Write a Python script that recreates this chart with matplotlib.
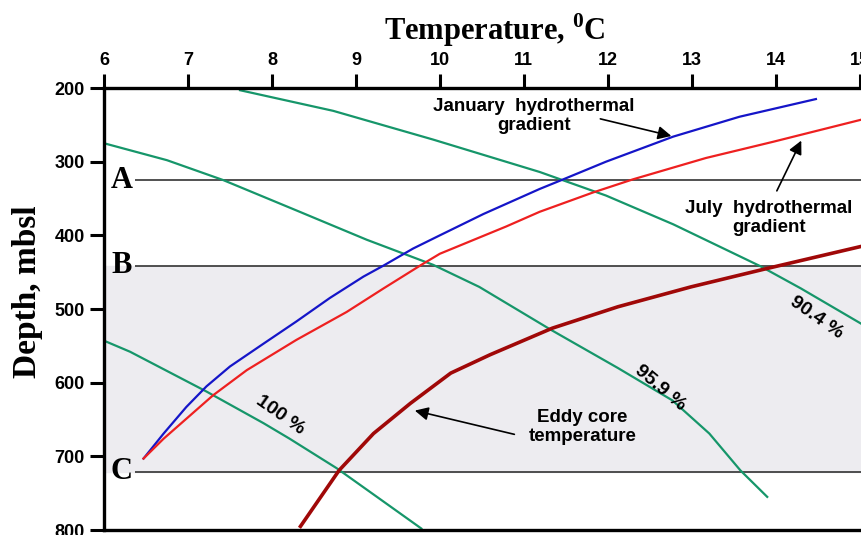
import matplotlib
matplotlib.use("Agg")
import matplotlib.pyplot as plt

# --- data (temperature degC, depth m) ---
jan_t = [6.47, 6.71, 6.98, 7.22, 7.50, 7.90, 8.29, 8.69, 9.09, 9.33, 9.68, 10.0,
         10.52, 11.19, 11.47, 11.98, 12.78, 13.57, 14.48]
jan_d = [703, 669, 633, 605, 578, 547, 517, 485, 456, 441, 418, 400,
         371, 337, 324, 300, 266, 239, 215]

jul_t = [6.47, 6.71, 7.30, 7.70, 8.29, 8.89, 9.33, 9.78, 10.0, 10.79, 11.19, 11.82,
         12.30, 13.17, 13.97, 15.02]
jul_d = [703, 676, 617, 583, 542, 504, 472, 440, 425, 388, 368, 342,
         324, 295, 273, 243]

eddy_t = [8.34, 8.80, 9.21, 9.65, 10.13, 10.60, 11.34, 12.12, 12.99, 13.86, 15.02]
eddy_d = [795, 719, 669, 628, 587, 562, 526, 497, 470, 446, 415]

g904_t = [7.62, 8.73, 9.92, 11.19, 11.98, 12.78, 13.51, 13.82, 14.30, 15.02]
g904_d = [203, 231, 270, 314, 346, 385, 425, 442, 472, 520]

g959_t = [6.0, 6.75, 7.42, 8.33, 9.13, 9.92, 10.47, 11.32, 12.12, 12.77, 13.21,
          13.58, 13.90]
g959_d = [275, 298, 325, 368, 406, 440, 470, 528, 580, 624, 669, 719, 755]

g100_t = [6.0, 6.31, 7.22, 7.90, 8.21, 8.77, 9.30, 9.78]
g100_d = [543, 558, 612, 655, 676, 716, 759, 798]

levels = [325, 441, 721]
level_names = ["A", "B", "C"]
x_ticks = list(range(6, 16))
y_ticks = [200, 300, 400, 500, 600, 700, 800]

sans = ["Liberation Sans", "DejaVu Sans"]
serif = ["Liberation Serif", "DejaVu Serif"]
plt.rcParams["mathtext.fontset"] = "custom"
plt.rcParams["mathtext.rm"] = "Liberation Serif:bold"
plt.rcParams["mathtext.bf"] = "Liberation Serif:bold"

green = "#16966a"
fig = plt.figure(figsize=(8.62, 5.35), dpi=100)
ax = fig.add_axes([0.1207, 0.0093, 0.8794, 0.8262])

ax.set_xlim(6, 15.03)
ax.set_ylim(800, 200)

# shaded layer between B and C
ax.axhspan(levels[1], levels[2], color="#edecf0", zorder=0)
for lv, nm in zip(levels, level_names):
    ax.hlines(lv, 6.37, 15.03, color="#222222", lw=1.1, zorder=1)
    ax.text(6.21, lv, nm, family=serif, fontweight="bold", fontsize=22,
            ha="center", va="center")

ax.plot(g904_t, g904_d, color=green, lw=1.6)
ax.plot(g959_t, g959_d, color=green, lw=1.6)
ax.plot(g100_t, g100_d, color=green, lw=1.6)
ax.plot(jan_t, jan_d, color="#1515c8", lw=1.6)
ax.plot(jul_t, jul_d, color="#ee2020", lw=1.6)
ax.plot(eddy_t, eddy_d, color="#a00808", lw=2.6)

lab = dict(family=sans, fontweight="bold", fontsize=14, ha="center", va="center")
ax.text(14.48, 512, "90.4 %", rotation=-35, **lab)
ax.text(12.63, 607, "95.9 %", rotation=-40, **lab)
ax.text(8.1, 644, "100 %", rotation=-35, **lab)

txt = dict(family=sans, fontweight="bold", fontsize=13.5, ha="center", va="center",
           linespacing=1.15)
arr = dict(arrowstyle="-|>", color="black", lw=1.2, mutation_scale=20)
ax.text(11.12, 238, "January  hydrothermal\ngradient", **txt)
ax.annotate("", xy=(12.79, 266), xytext=(11.88, 241), arrowprops=arr)
ax.text(13.92, 376, "July  hydrothermal\ngradient", **txt)
ax.annotate("", xy=(14.32, 268), xytext=(14.0, 343), arrowprops=arr)
ax.text(11.7, 660, "Eddy core\ntemperature", **txt)
ax.annotate("", xy=(9.67, 637), xytext=(10.92, 671), arrowprops=arr)

ax.xaxis.tick_top()
ax.set_xticks(x_ticks)
ax.set_yticks(y_ticks)
ax.tick_params(axis="both", direction="out", length=10, width=2.2, labelsize=13, pad=4)
for t in ax.get_xticklabels() + ax.get_yticklabels():
    t.set_family(sans)
    t.set_fontweight("bold")
for s in ["top", "left", "bottom"]:
    ax.spines[s].set_linewidth(2.4)
ax.spines["right"].set_visible(False)

fig.text(0.574, 0.944, r"Temperature, $^{0}$C", family=serif, fontweight="bold",
         fontsize=22, ha="center", va="center")
fig.text(0.032, 0.455, "Depth, mbsl", family=serif, fontweight="bold", fontsize=24,
         rotation=90, ha="center", va="center")

fig.savefig("out.png", dpi=100)
